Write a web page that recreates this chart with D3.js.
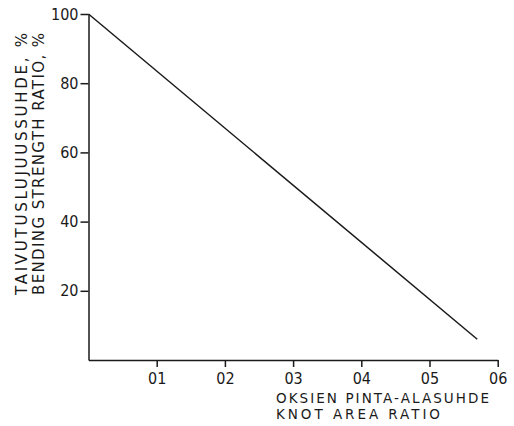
<!DOCTYPE html>
<html>
<head>
<meta charset="utf-8">
<script src="https://cdn.jsdelivr.net/npm/d3@7"></script>
<style>
  body { margin: 0; background: #fff; }
  svg text { font-family: "DejaVu Sans Condensed", "DejaVu Sans", sans-serif; fill: #1a1a1a; }
  .axis path, .axis line { stroke: #1a1a1a; stroke-width: 1.5; }
  .axis text { font-size: 16px; }
  .title { font-family: "DejaVu Sans", sans-serif; font-size: 15px; }
  .xtitle { font-size: 13.5px; }
</style>
</head>
<body>
<div id="chart"></div>
<script>
// knot area ratio vs bending strength ratio
var knotRatio = [0, 0.57];
var strengthRatio = [100, 6];

var xTicks = [0.1, 0.2, 0.3, 0.4, 0.5, 0.6];
var xTickLabels = ['01', '02', '03', '04', '05', '06'];
var yTicks = [20, 40, 60, 80, 100];

var xTitle = ['OKSIEN PINTA-ALASUHDE', 'KNOT AREA RATIO'];
var yTitle = ['TAIVUTUSLUJUUSSUHDE, %', 'BENDING STRENGTH RATIO, %'];

var width = 514, height = 426;

var svg = d3.select('#chart').append('svg')
    .attr('width', width)
    .attr('height', height);

var x = d3.scaleLinear().domain([0, 0.6]).range([88.5, 497.7]);
var y = d3.scaleLinear().domain([0, 100]).range([360, 14]);

// axes
var xAxis = d3.axisBottom(x)
    .tickValues(xTicks)
    .tickFormat((d, i) => xTickLabels[i])
    .tickSize(7)
    .tickSizeOuter(0)
    .tickPadding(6);
svg.append('g').attr('class', 'axis')
    .attr('transform', 'translate(0,' + y(0) + ')')
    .call(xAxis);

var yAxis = d3.axisLeft(y)
    .tickValues(yTicks)
    .tickSize(8)
    .tickSizeOuter(0)
    .tickPadding(2);
svg.append('g').attr('class', 'axis')
    .attr('transform', 'translate(' + x(0) + ',0)')
    .call(yAxis);

svg.selectAll('.axis text').attr('fill', '#1a1a1a');

// the line
var data = knotRatio.map((k, i) => ({k: k, s: strengthRatio[i]}));
var line = d3.line().x(d => x(d.k)).y(d => y(d.s));
svg.append('path')
    .datum(data)
    .attr('d', line)
    .attr('fill', 'none')
    .attr('stroke', '#1a1a1a')
    .attr('stroke-width', 1.5);

// x title, two lines
var xLens = [213, 164];
svg.selectAll('.xtitle')
    .data(xTitle)
    .enter().append('text')
      .attr('class', 'title xtitle')
      .attr('x', 276)
      .attr('y', (d, i) => 403 + i * 16)
      .attr('textLength', (d, i) => xLens[i])
      .attr('lengthAdjust', 'spacing')
      .text(d => d);

// y title
svg.append('text')
    .attr('class', 'title')
    .attr('transform', 'translate(0,295) rotate(-90)')
    .selectAll('tspan')
    .data(yTitle)
    .enter().append('tspan')
      .attr('x', 0)
      .attr('y', (d, i) => 27 + i * 17)
      .attr('textLength', 262)
      .attr('lengthAdjust', 'spacing')
      .text(d => d);
</script>
</body>
</html>
